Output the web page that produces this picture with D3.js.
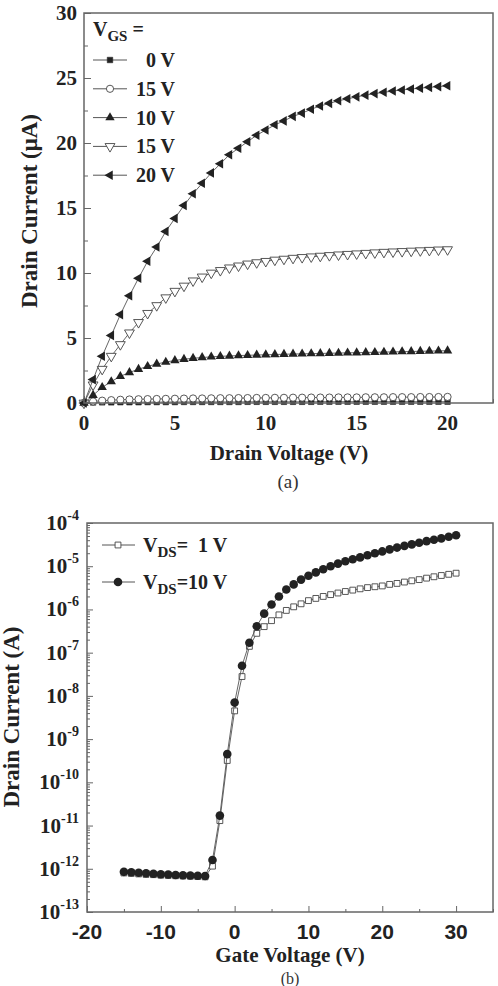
<!DOCTYPE html>
<html>
<head>
<meta charset="utf-8">
<script src="https://cdn.jsdelivr.net/npm/d3@7"></script>
<style>
  body { margin: 0; background: #fff; }
  svg { display: block; }
  .serif { font-family: "Liberation Serif", "Times New Roman", serif; font-weight: bold; fill: #222; }
  .sans { font-family: "Liberation Sans", Arial, sans-serif; font-weight: bold; fill: #222; }
</style>
</head>
<body>
<svg id="chart" width="498" height="986"></svg>
<script>
// ---- panel (a) data: output curves ----
var drainV = [0,0.5,1,1.5,2,2.5,3,3.5,4,4.5,5,5.5,6,6.5,7,7.5,8,8.5,9,9.5,10,
  10.5,11,11.5,12,12.5,13,13.5,14,14.5,15,15.5,16,16.5,17,17.5,18,18.5,19,19.5,20];
var vgsLabels = ["0 V", "15 V", "10 V", "15 V", "20 V"];
var id0 = [0,0.04,0.05,0.05,0.06,0.06,0.06,0.07,0.07,0.07,0.07,0.08,0.08,0.08,0.08,0.08,0.08,0.08,0.09,0.09,0.09,
  0.09,0.09,0.09,0.09,0.09,0.1,0.1,0.1,0.1,0.1,0.1,0.1,0.1,0.1,0.1,0.1,0.1,0.1,0.1,0.1];
var id5 = [0,0.12,0.18,0.22,0.25,0.27,0.29,0.3,0.31,0.32,0.33,0.34,0.35,0.35,0.36,0.37,0.37,0.38,0.38,0.39,0.39,
  0.4,0.4,0.41,0.41,0.42,0.42,0.42,0.43,0.43,0.43,0.44,0.44,0.44,0.45,0.45,0.45,0.46,0.46,0.46,0.47];
var id10 = [0,0.6,1.2,1.65,2.05,2.35,2.6,2.82,3.0,3.15,3.27,3.37,3.44,3.5,3.55,3.59,3.62,3.65,3.67,3.69,3.71,
  3.73,3.75,3.77,3.78,3.8,3.81,3.83,3.84,3.86,3.87,3.89,3.9,3.92,3.93,3.95,3.96,3.98,3.99,4.01,4.02];
var id15 = [0,1.4,2.6,3.6,4.5,5.4,6.2,6.9,7.5,8.1,8.6,9.0,9.4,9.7,10.0,10.2,10.4,10.55,10.7,10.8,10.9,
  11.0,11.07,11.14,11.2,11.25,11.3,11.35,11.4,11.44,11.48,11.52,11.56,11.6,11.63,11.66,11.69,11.72,11.75,11.78,11.8];
var id20 = [0,1.8,3.6,5.2,6.8,8.25,9.6,10.9,12.0,13.2,14.2,15.2,16.1,16.9,17.7,18.4,19.1,19.6,20.1,20.6,21.0,
  21.4,21.7,22.05,22.3,22.6,22.85,23.05,23.25,23.4,23.55,23.68,23.8,23.9,24.0,24.08,24.15,24.22,24.28,24.34,24.4];
var xTicksA = [0, 5, 10, 15, 20];
var yTicksA = [0, 5, 10, 15, 20, 25, 30];

// ---- panel (b) data: transfer curves ----
var gateV = [-15,-14,-13,-12,-11,-10,-9,-8,-7,-6,-5,-4,-3,-2,-1,0,1,2,3,4,5,6,7,8,9,10,
  11,12,13,14,15,16,17,18,19,20,21,22,23,24,25,26,27,28,29,30];
var idVds1 = [8.0e-13,7.8e-13,7.6e-13,7.4e-13,7.3e-13,7.1e-13,7.0e-13,6.9e-13,6.8e-13,6.7e-13,6.6e-13,6.5e-13,
  1.15e-12,1.3e-11,3.2e-10,4.5e-9,2.8e-8,1.4e-7,2.8e-7,4.0e-7,5.5e-7,7.5e-7,9.5e-7,1.15e-6,1.35e-6,1.6e-6,
  1.8e-6,2.0e-6,2.2e-6,2.4e-6,2.6e-6,2.8e-6,3.0e-6,3.2e-6,3.35e-6,3.5e-6,3.8e-6,4.0e-6,4.3e-6,4.6e-6,4.9e-6,
  5.3e-6,5.7e-6,6.1e-6,6.5e-6,6.9e-6];
var idVds10 = [8.5e-13,8.3e-13,8.1e-13,7.9e-13,7.7e-13,7.5e-13,7.4e-13,7.2e-13,7.1e-13,7.0e-13,6.9e-13,6.8e-13,
  1.6e-12,1.7e-11,4.5e-10,7.0e-9,5.0e-8,1.7e-7,4.1e-7,8.0e-7,1.3e-6,2.0e-6,2.9e-6,3.8e-6,4.9e-6,6.0e-6,
  7.2e-6,8.5e-6,1.0e-5,1.15e-5,1.3e-5,1.45e-5,1.6e-5,1.8e-5,2.0e-5,2.2e-5,2.45e-5,2.7e-5,2.95e-5,3.2e-5,3.5e-5,
  3.8e-5,4.1e-5,4.4e-5,4.8e-5,5.2e-5];
var xTicksB = [-20, -10, 0, 10, 20, 30];
var yExpB = [-4, -5, -6, -7, -8, -9, -10, -11, -12, -13];

var svg = d3.select("#chart");
var frameColor = "#666";
var lineColor = "#555";

// marker builder: shape name -> path + fill
function marker(sel, kind, x, y) {
  var g = sel.append("g").attr("transform", "translate(" + x + "," + y + ")");
  if (kind == "square-fill") {
    g.append("path").attr("d", d3.symbol(d3.symbolSquare, 30)()).attr("fill", "#222").attr("stroke", "#222").attr("stroke-width", 0.6);
  } else if (kind == "circle-open") {
    g.append("circle").attr("r", 3.6).attr("fill", "#fff").attr("stroke", "#444").attr("stroke-width", 0.9);
  } else if (kind == "tri-up") {
    g.append("path").attr("d", d3.symbol(d3.symbolTriangle, 38)()).attr("fill", "#222");
  } else if (kind == "tri-down") {
    g.append("path").attr("d", d3.symbol(d3.symbolTriangle, 42)()).attr("transform", "rotate(180)")
      .attr("fill", "#fff").attr("stroke", "#444").attr("stroke-width", 0.9);
  } else if (kind == "tri-left") {
    g.append("path").attr("d", d3.symbol(d3.symbolTriangle, 40)()).attr("transform", "rotate(-90)").attr("fill", "#222");
  } else if (kind == "square-open") {
    g.append("path").attr("d", d3.symbol(d3.symbolSquare, 34)()).attr("fill", "#fff").attr("stroke", "#444").attr("stroke-width", 0.9);
  } else if (kind == "circle-fill") {
    g.append("circle").attr("r", 4.3).attr("fill", "#222");
  }
}

// ================= Panel (a) =================
var A = {left: 84, right: 493, top: 13, bottom: 403};
var xa = d3.scaleLinear().domain([0, 22.5]).range([A.left, A.right]);
var ya = d3.scaleLinear().domain([0, 30]).range([A.bottom, A.top]);

var ga = svg.append("g");

// inward ticks
ga.append("g").attr("transform", "translate(" + A.left + ",0)")
  .call(d3.axisRight(ya).tickValues(d3.range(0, 30.01, 2.5)).tickSize(4).tickFormat(""))
  .call(function(g) { g.select(".domain").remove(); g.selectAll("line").attr("stroke", frameColor); });
ga.append("g").attr("transform", "translate(" + A.left + ",0)")
  .call(d3.axisRight(ya).tickValues(yTicksA).tickSize(7).tickFormat(""))
  .call(function(g) { g.select(".domain").remove(); g.selectAll("line").attr("stroke", frameColor); });
ga.append("g").attr("transform", "translate(0," + A.bottom + ")")
  .call(d3.axisTop(xa).tickValues(d3.range(0, 22.51, 2.5)).tickSize(4).tickFormat(""))
  .call(function(g) { g.select(".domain").remove(); g.selectAll("line").attr("stroke", frameColor); });
ga.append("g").attr("transform", "translate(0," + A.bottom + ")")
  .call(d3.axisTop(xa).tickValues(xTicksA).tickSize(7).tickFormat(""))
  .call(function(g) { g.select(".domain").remove(); g.selectAll("line").attr("stroke", frameColor); });

// tick labels
ga.selectAll(".ylab").data(yTicksA).enter().append("text")
  .attr("class", "serif").attr("x", A.left - 7).attr("y", function(d) { return ya(d) + 7; })
  .attr("text-anchor", "end").attr("font-size", 21).text(function(d) { return d; });
ga.selectAll(".xlab").data(xTicksA).enter().append("text")
  .attr("class", "serif").attr("x", function(d) { return xa(d); }).attr("y", 430)
  .attr("text-anchor", "middle").attr("font-size", 21).text(function(d) { return d; });

ga.append("text").attr("class", "serif").attr("x", 289).attr("y", 460)
  .attr("text-anchor", "middle").attr("font-size", 21).text("Drain Voltage (V)");
ga.append("text").attr("class", "serif").attr("transform", "translate(37,211) rotate(-90)")
  .attr("text-anchor", "middle").attr("font-size", 23).text("Drain Current (\u03bcA)");
ga.append("text").attr("x", 288).attr("y", 488).attr("text-anchor", "middle")
  .attr("font-family", "Liberation Serif, serif").attr("font-size", 19).attr("fill", "#333").text("(a)");

var seriesA = [
  {vals: id0, kind: "square-fill"},
  {vals: id5, kind: "circle-open"},
  {vals: id10, kind: "tri-up"},
  {vals: id15, kind: "tri-down"},
  {vals: id20, kind: "tri-left"}
];
var lineA = d3.line().x(function(d) { return xa(d[0]); }).y(function(d) { return ya(d[1]); });
seriesA.forEach(function(s) {
  var pts = drainV.map(function(v, i) { return [v, s.vals[i]]; });
  ga.append("path").attr("d", lineA(pts)).attr("fill", "none").attr("stroke", lineColor).attr("stroke-width", 0.9);
  pts.forEach(function(p) { marker(ga, s.kind, xa(p[0]), ya(p[1])); });
});

// frame
ga.append("rect").attr("x", A.left).attr("y", A.top).attr("width", A.right - A.left).attr("height", A.bottom - A.top)
  .attr("fill", "none").attr("stroke", frameColor).attr("stroke-width", 1.5);

// legend (a)
var lgA = ga.append("g");
var vgs = lgA.append("text").attr("class", "serif").attr("x", 93).attr("y", 36).attr("font-size", 20);
vgs.append("tspan").text("V");
vgs.append("tspan").attr("dy", 5).attr("font-size", 15).text("GS");
vgs.append("tspan").attr("dy", -5).text(" =");
seriesA.forEach(function(s, i) {
  var y = 60 + i * 28.8;
  lgA.append("line").attr("x1", 93).attr("x2", 127).attr("y1", y).attr("y2", y).attr("stroke", lineColor).attr("stroke-width", 1);
  marker(lgA, s.kind, 110, y);
  lgA.append("text").attr("class", "serif").attr("x", 175).attr("y", y + 7).attr("text-anchor", "end")
    .attr("font-size", 20).text(vgsLabels[i]);
});

// ================= Panel (b) =================
var B = {left: 87, right: 493, top: 523, bottom: 912};
var xb = d3.scaleLinear().domain([-20, 35]).range([B.left, B.right]);
var yb = d3.scaleLog().domain([1e-13, 1e-4]).range([B.bottom, B.top]);

var gb = svg.append("g");

var minorLog = [];
yExpB.forEach(function(e) {
  if (e == -4) return;
  for (var m = 2; m <= 9; m++) minorLog.push(m * Math.pow(10, e));
});
gb.append("g").attr("transform", "translate(" + B.left + ",0)")
  .call(d3.axisRight(yb).tickValues(minorLog).tickSize(3).tickFormat(""))
  .call(function(g) { g.select(".domain").remove(); g.selectAll("line").attr("stroke", frameColor); });
gb.append("g").attr("transform", "translate(" + B.left + ",0)")
  .call(d3.axisRight(yb).tickValues(yExpB.map(function(e) { return Math.pow(10, e); })).tickSize(6).tickFormat(""))
  .call(function(g) { g.select(".domain").remove(); g.selectAll("line").attr("stroke", frameColor); });
gb.append("g").attr("transform", "translate(0," + B.bottom + ")")
  .call(d3.axisTop(xb).tickValues([-15, -5, 5, 15, 25, 35]).tickSize(3).tickFormat(""))
  .call(function(g) { g.select(".domain").remove(); g.selectAll("line").attr("stroke", frameColor); });
gb.append("g").attr("transform", "translate(0," + B.bottom + ")")
  .call(d3.axisTop(xb).tickValues(xTicksB).tickSize(6).tickFormat(""))
  .call(function(g) { g.select(".domain").remove(); g.selectAll("line").attr("stroke", frameColor); });

// y labels 10^n
yExpB.forEach(function(e) {
  var t = gb.append("text").attr("class", "serif").attr("x", 79).attr("y", yb(Math.pow(10, e)) + 7)
    .attr("text-anchor", "end").attr("font-size", 21);
  t.append("tspan").text("10");
  t.append("tspan").attr("dy", -10).attr("font-size", 14).text(e);
});
gb.selectAll(".xlabb").data(xTicksB).enter().append("text")
  .attr("class", "sans").attr("x", function(d) { return xb(d); }).attr("y", 939)
  .attr("text-anchor", "middle").attr("font-size", 21).text(function(d) { return d; });

gb.append("text").attr("class", "serif").attr("x", 290).attr("y", 962)
  .attr("text-anchor", "middle").attr("font-size", 21).text("Gate Voltage (V)");
gb.append("text").attr("class", "serif").attr("transform", "translate(19,717) rotate(-90)")
  .attr("text-anchor", "middle").attr("font-size", 23).text("Drain Current (A)");
gb.append("text").attr("x", 290).attr("y", 984).attr("text-anchor", "middle")
  .attr("font-family", "Liberation Serif, serif").attr("font-size", 16).attr("fill", "#333").text("(b)");

var seriesB = [
  {vals: idVds1, kind: "square-open", label: "=  1 V"},
  {vals: idVds10, kind: "circle-fill", label: "=10 V"}
];
var lineB = d3.line().x(function(d) { return xb(d[0]); }).y(function(d) { return yb(d[1]); });
seriesB.forEach(function(s) {
  var pts = gateV.map(function(v, i) { return [v, s.vals[i]]; });
  gb.append("path").attr("d", lineB(pts)).attr("fill", "none").attr("stroke", lineColor).attr("stroke-width", 0.9);
  pts.forEach(function(p) { marker(gb, s.kind, xb(p[0]), yb(p[1])); });
});

gb.append("rect").attr("x", B.left).attr("y", B.top).attr("width", B.right - B.left).attr("height", B.bottom - B.top)
  .attr("fill", "none").attr("stroke", frameColor).attr("stroke-width", 1.5);

// legend (b)
seriesB.forEach(function(s, i) {
  var y = 545 + i * 37;
  gb.append("line").attr("x1", 102).attr("x2", 135).attr("y1", y).attr("y2", y).attr("stroke", lineColor).attr("stroke-width", 1);
  marker(gb, s.kind, 118, y);
  var t = gb.append("text").attr("class", "serif").attr("x", 143).attr("y", y + 7).attr("font-size", 20)
    .attr("xml:space", "preserve");
  t.append("tspan").text("V");
  t.append("tspan").attr("dy", 5).attr("font-size", 15).text("DS");
  t.append("tspan").attr("dy", -5).text(s.label);
});
</script>
</body>
</html>
